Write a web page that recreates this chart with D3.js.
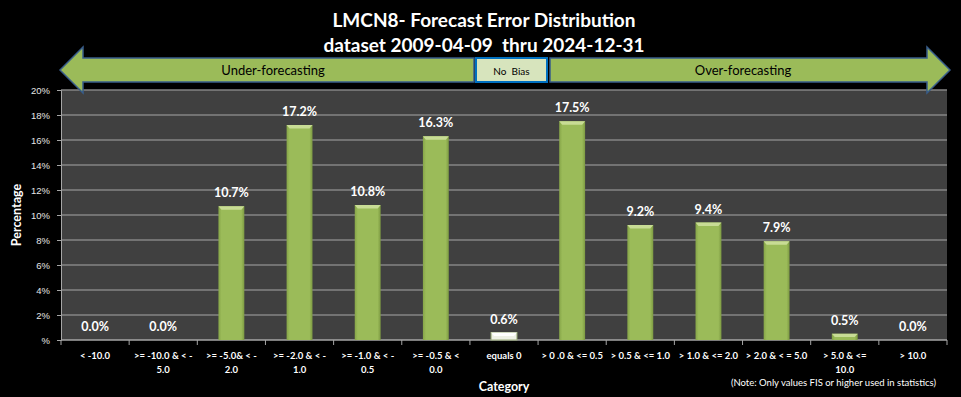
<!DOCTYPE html>
<html>
<head>
<meta charset="utf-8">
<script src="https://cdn.jsdelivr.net/npm/d3@7"></script>
<style>
  body { margin: 0; background: #000; }
  svg { display: block; font-family: Lato, "Open Sans", sans-serif; }
</style>
</head>
<body>
<div id="chart"></div>
<script>
// chart data
const categories = [
  ["< -10.0"], [">= -10.0 & < -", "5.0"], [">= -5.0& < -", "2.0"],
  [">= -2.0 & < -", "1.0"], [">= -1.0 & < -", "0.5"], [">= -0.5 & <", "0.0"],
  ["equals 0"], ["> 0 .0 & <= 0.5"], ["> 0.5 & <= 1.0"], ["> 1.0 & <= 2.0"],
  ["> 2.0 & < = 5.0"], ["> 5.0 & <=", "10.0"], ["> 10.0"]
];
const values = [0.0, 0.0, 10.7, 17.2, 10.8, 16.3, 0.6, 17.5, 9.2, 9.4, 7.9, 0.5, 0.0];
const yTicks = [0, 2, 4, 6, 8, 10, 12, 14, 16, 18, 20];
const titleLines = ["LMCN8- Forecast Error Distribution", "dataset 2009-04-09  thru 2024-12-31"];

const w = 961, h = 397;
const mg = { left: 61, right: 14, top: 90, bottom: 57 };

const svg = d3.select('#chart').append('svg')
  .attr('width', w).attr('height', h);

svg.append('rect').attr('width', w).attr('height', h).attr('fill', '#000');

const x = d3.scaleBand()
  .domain(d3.range(categories.length))
  .range([mg.left, w - mg.right])
  .paddingInner(0).paddingOuter(0);

const y = d3.scaleLinear()
  .domain([0, 20])
  .range([h - mg.bottom, mg.top]);

// plot area
svg.append('rect')
  .attr('x', mg.left).attr('y', mg.top)
  .attr('width', w - mg.left - mg.right).attr('height', h - mg.top - mg.bottom)
  .attr('fill', '#404040');

// gridlines
svg.selectAll('.grid')
  .data(yTicks.slice(1))
  .enter().append('line')
  .attr('x1', mg.left).attr('x2', w - mg.right)
  .attr('y1', d => y(d)).attr('y2', d => y(d))
  .attr('stroke', '#858585').attr('stroke-width', 1.3);

// y axis
const yAxis = svg.append('g')
  .attr('transform', `translate(${mg.left},0)`)
  .call(d3.axisLeft(y).tickValues(yTicks).tickSize(4).tickPadding(7)
    .tickFormat(d => (d === 0 ? '' : d) + '%'));
yAxis.select('.domain').attr('stroke', '#a6a6a6');
yAxis.selectAll('.tick line').attr('stroke', '#a6a6a6');
yAxis.selectAll('text')
  .attr('fill', '#e6e6e6')
  .style('font-size', '9.5px')
  .style('font-family', '"Liberation Sans", Arial, sans-serif');

// x axis
const xAxisG = svg.append('g').attr('transform', `translate(0,${y(0)})`);
xAxisG.append('line')
  .attr('x1', mg.left).attr('x2', w - mg.right)
  .attr('stroke', '#a6a6a6').attr('stroke-width', 1.5);
xAxisG.selectAll('.xtick')
  .data(d3.range(categories.length + 1))
  .enter().append('line')
  .attr('x1', d => mg.left + d * x.bandwidth())
  .attr('x2', d => mg.left + d * x.bandwidth())
  .attr('y1', 0).attr('y2', 5)
  .attr('stroke', '#a6a6a6');

const xLabels = svg.selectAll('.xlab')
  .data(categories)
  .enter().append('text')
  .attr('text-anchor', 'middle')
  .attr('fill', '#ffffff')
  .style('font-size', '9.5px')
  .style('font-weight', 'bold');
xLabels.each(function (d, i) {
  const t = d3.select(this);
  d.forEach((line, j) => {
    t.append('tspan')
      .attr('x', x(i) + x.bandwidth() / 2)
      .attr('y', 359 + j * 14)
      .text(line);
  });
});

// bars
const defs = svg.append('defs');
const gradSide = defs.append('linearGradient').attr('id', 'barGrad')
  .attr('x1', '0').attr('x2', '1').attr('y1', '0').attr('y2', '0');
gradSide.append('stop').attr('offset', '0').attr('stop-color', '#86a548');
gradSide.append('stop').attr('offset', '0.12').attr('stop-color', '#9bbb59');
gradSide.append('stop').attr('offset', '0.88').attr('stop-color', '#9bbb59');
gradSide.append('stop').attr('offset', '1').attr('stop-color', '#7d9a42');

const bw = x.bandwidth() * 0.38;
const barData = values.map((v, i) => ({ v: v, i: i, neutral: categories[i][0] === 'equals 0' }))
  .filter(d => d.v > 0);
const bars = svg.selectAll('.bar')
  .data(barData)
  .enter().append('g')
  .attr('class', 'bar');

bars.append('rect')
  .attr('x', d => x(d.i) + (x.bandwidth() - bw) / 2)
  .attr('y', d => y(d.v))
  .attr('width', bw)
  .attr('height', d => y(0) - y(d.v))
  .attr('fill', d => d.neutral ? '#eef1e6' : 'url(#barGrad)')
  .attr('stroke', d => d.neutral ? '#9aab78' : 'none')
  .attr('stroke-width', 1);

// top bevel
bars.append('path')
  .attr('d', d => {
    const x0 = x(d.i) + (x.bandwidth() - bw) / 2, x1 = x0 + bw, t = y(d.v);
    const b = Math.min(3.5, (y(0) - t) / 2);
    return `M${x0},${t}L${x1},${t}L${x1 - 3},${t + b}L${x0 + 3},${t + b}Z`;
  })
  .attr('fill', d => d.neutral ? '#ffffff' : '#c8dc95');

// data labels
svg.selectAll('.vlab')
  .data(values)
  .enter().append('text')
  .attr('x', (d, i) => x(i) + x.bandwidth() / 2)
  .attr('y', d => y(d) - 9)
  .attr('text-anchor', 'middle')
  .attr('fill', '#ffffff')
  .style('font-size', '12.5px')
  .style('font-weight', 'bold')
  .text(d => d.toFixed(1) + '%');

// axis titles
svg.append('text')
  .attr('transform', `translate(21,${(mg.top + y(0)) / 2}) rotate(-90)`)
  .attr('text-anchor', 'middle')
  .attr('fill', '#ffffff')
  .style('font-size', '12.5px').style('font-weight', 'bold')
  .text('Percentage');

svg.append('text')
  .attr('x', (mg.left + w - mg.right) / 2).attr('y', 391)
  .attr('text-anchor', 'middle')
  .attr('fill', '#ffffff')
  .style('font-size', '12.5px').style('font-weight', 'bold')
  .text('Category');

svg.append('text')
  .attr('x', 936).attr('y', 386)
  .attr('text-anchor', 'end')
  .attr('fill', '#ffffff')
  .style('font-size', '9.5px')
  .text('(Note: Only values FIS or higher used in statistics)');

// title
svg.selectAll('.title')
  .data(titleLines)
  .enter().append('text')
  .attr('x', 484).attr('y', (d, i) => 27 + i * 25)
  .attr('text-anchor', 'middle')
  .attr('fill', '#ffffff')
  .style('font-size', '19px').style('font-weight', 'bold')
  .style('white-space', 'pre')
  .text(d => d);

// bias arrows
const arrowY = 70, bodyH = 24, headH = 46, headW = 23;
svg.append('path')
  .attr('d', `M60,${arrowY}L${60 + headW},${arrowY - headH / 2}L${60 + headW},${arrowY - bodyH / 2}` +
    `L474,${arrowY - bodyH / 2}L474,${arrowY + bodyH / 2}L${60 + headW},${arrowY + bodyH / 2}` +
    `L${60 + headW},${arrowY + headH / 2}Z`)
  .attr('fill', '#9bbb59').attr('stroke', '#385d8a').attr('stroke-width', 1.5);
svg.append('path')
  .attr('d', `M950,${arrowY}L${950 - headW},${arrowY - headH / 2}L${950 - headW},${arrowY - bodyH / 2}` +
    `L550,${arrowY - bodyH / 2}L550,${arrowY + bodyH / 2}L${950 - headW},${arrowY + bodyH / 2}` +
    `L${950 - headW},${arrowY + headH / 2}Z`)
  .attr('fill', '#9bbb59').attr('stroke', '#385d8a').attr('stroke-width', 1.5);
svg.append('rect')
  .attr('x', 476).attr('y', arrowY - bodyH / 2)
  .attr('width', 71).attr('height', bodyH)
  .attr('fill', '#d7e4bd').attr('stroke', '#0070c0').attr('stroke-width', 2);

const arrowText = [
  { t: 'Under-forecasting', x: 273, s: 13 },
  { t: 'No  Bias', x: 511.5, s: 10 },
  { t: 'Over-forecasting', x: 743, s: 13 }
];
svg.selectAll('.atext')
  .data(arrowText)
  .enter().append('text')
  .attr('x', d => d.x).attr('y', arrowY + 4.5)
  .attr('text-anchor', 'middle')
  .attr('fill', '#000')
  .style('font-size', d => d.s + 'px')
  .style('white-space', 'pre')
  .text(d => d.t);
</script>
</body>
</html>
